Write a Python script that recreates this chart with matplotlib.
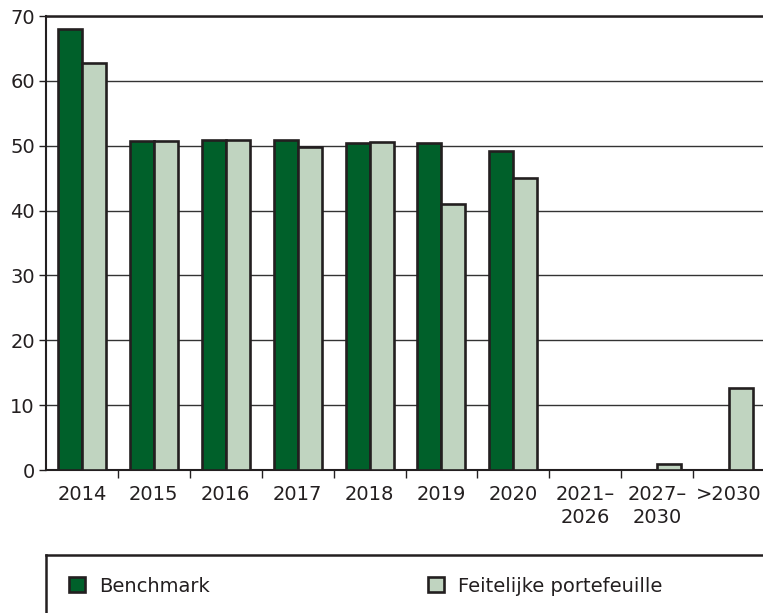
import numpy as np
import matplotlib.pyplot as plt

plt.rcParams['font.family'] = ['DejaVu Sans']

categories = ['2014', '2015', '2016', '2017', '2018', '2019', '2020',
              '2021–\n2026', '2027–\n2030', '>2030']
benchmark = [68.0, 50.8, 50.9, 50.9, 50.4, 50.4, 49.2, 0, 0, 0]
feitelijk = [62.7, 50.8, 50.9, 49.8, 50.5, 41.0, 45.0, 0, 0.9, 12.6]

dark_green = '#00602a'
light_green = '#c0d4c0'
ink = '#231f20'

fig = plt.figure(figsize=(7.63, 6.13), dpi=100)
ax = fig.add_axes([46/763, 1 - 470/613, 719/763, 454/613])

x = np.arange(len(categories))
w = 1/3
ax.bar(x - w/2, benchmark, w, color=dark_green, edgecolor=ink, linewidth=1.9,
       label='Benchmark', zorder=3)
ax.bar(x + w/2, feitelijk, w, color=light_green, edgecolor=ink, linewidth=1.9,
       label='Feitelijke portefeuille', zorder=3)

ax.set_xlim(-0.5, len(categories) - 0.5)
ax.set_ylim(0, 70)
ax.set_yticks(range(0, 71, 10))
ax.yaxis.grid(True, color='#333333', linewidth=1.0, zorder=0)
ax.set_axisbelow(True)

ax.set_xticks(x)
ax.set_xticklabels(categories, fontsize=14, color=ink, linespacing=1.25)
ax.set_xticks(x[:-1] + 0.5, minor=True)
ax.tick_params(axis='x', which='major', length=0, pad=11)
ax.tick_params(axis='x', which='minor', length=6, width=1, color=ink)
ax.tick_params(axis='y', length=5, width=1, color=ink, labelsize=14,
               labelcolor=ink, pad=3)

ax.spines['right'].set_visible(False)
ax.spines['top'].set_linewidth(1.8)
ax.spines['left'].set_linewidth(1.5)
ax.spines['bottom'].set_linewidth(1.5)
for s in ['top', 'left', 'bottom']:
    ax.spines[s].set_color(ink)

# legend box (only top and left edges visible)
lax = fig.add_axes([46/763, -0.1, 1, 0.1 + 1 - 555/613])
lax.set_xticks([])
lax.set_yticks([])
lax.patch.set_alpha(0)
for s in ['right', 'bottom']:
    lax.spines[s].set_visible(False)
for s in ['top', 'left']:
    lax.spines[s].set_linewidth(1.8)
    lax.spines[s].set_color(ink)

handles, labels = ax.get_legend_handles_labels()
leg_kw = dict(loc='center left', frameon=False, fontsize=14, borderpad=0,
              borderaxespad=0, handlelength=0.8, handleheight=0.8,
              handletextpad=0.75, labelcolor=ink,
              bbox_transform=fig.transFigure)
fig.legend([handles[0]], [labels[0]],
           bbox_to_anchor=(69/763, 1 - 586/613), **leg_kw)
fig.legend([handles[1]], [labels[1]],
           bbox_to_anchor=(428/763, 1 - 586/613), **leg_kw)

fig.savefig('out.png', dpi=100)
